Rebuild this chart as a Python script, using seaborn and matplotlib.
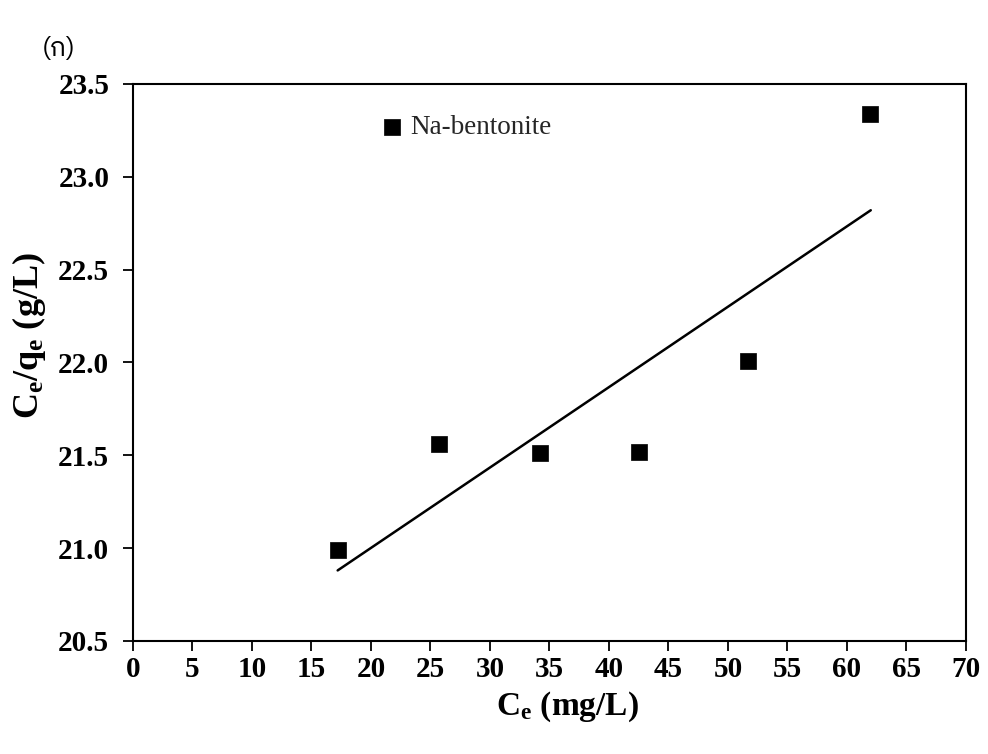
import matplotlib
matplotlib.use("Agg")
import matplotlib.pyplot as plt
from matplotlib import font_manager
from matplotlib.ft2font import FT2Font
import seaborn as sns
import pandas as pd

# Data
ce = [17.2, 25.7, 34.2, 42.5, 51.7, 61.9]
ce_qe = [20.99, 21.56, 21.51, 21.52, 22.01, 23.34]
fit_x = [17.2, 62.0]
fit_y = [20.88, 22.82]
x_ticks = list(range(0, 75, 5))
y_ticks = [20.5, 21.0, 21.5, 22.0, 22.5, 23.0, 23.5]
series_label = "Na-bentonite"
panel_label = "(ก)"


def find_family_with(char):
    fams = []
    for path in font_manager.findSystemFonts():
        try:
            f = FT2Font(path)
            if ord(char) in f.get_charmap():
                name = font_manager.FontProperties(fname=path).get_name()
                fams.append(name)
        except Exception:
            pass
    pref = [n for n in fams if 'Thai' in n and 'Looped' not in n]
    return (pref or fams or ['DejaVu Sans'])[0]


thai_family = find_family_with("ก")

sns.set_theme(style="white")
plt.rcParams['font.family'] = ['Liberation Serif', 'DejaVu Serif']
plt.rcParams['mathtext.fontset'] = 'custom'
plt.rcParams['mathtext.rm'] = 'Liberation Serif'
plt.rcParams['mathtext.bf'] = 'Liberation Serif:bold'

fig = plt.figure(figsize=(9.88, 7.54), dpi=100)
ax = fig.add_axes([0.1346, 0.1499, 0.8431, 0.7387])

df = pd.DataFrame({"Ce": ce, "Ceqe": ce_qe})
fit_df = pd.DataFrame({"x": fit_x, "y": fit_y})

sns.lineplot(data=fit_df, x="x", y="y", color="black", linewidth=1.8, ax=ax, legend=False)
sns.scatterplot(data=df, x="Ce", y="Ceqe", marker="s", s=120, color="black",
                edgecolor="black", linewidth=0.5, ax=ax, label=series_label, zorder=3)

ax.set_xlim(0, 70)
ax.set_ylim(20.5, 23.5)
ax.set_xticks(x_ticks)
ax.set_yticks(y_ticks)
ax.set_xticklabels([str(t) for t in x_ticks])
ax.set_yticklabels([f"{t:.1f}" for t in y_ticks])

for s in ax.spines.values():
    s.set_color("black")
    s.set_linewidth(1.5)
    s.set_visible(True)

ax.tick_params(axis="both", which="major", direction="out", length=7, width=1.3,
               color="black", labelsize=21, labelcolor="black", bottom=True, left=True)
ax.tick_params(axis="x", pad=4)
ax.tick_params(axis="y", pad=10)
for lab in ax.get_xticklabels() + ax.get_yticklabels():
    lab.set_fontweight("bold")

ax.set_xlabel(r"$\mathbf{C_e}$ (mg/L)", fontsize=24, fontweight="bold", color="black")
ax.set_ylabel(r"$\mathbf{C_e/q_e}$ (g/L)", fontsize=26, fontweight="bold", color="black")
ax.xaxis.set_label_coords(0.522, -0.088)
ax.yaxis.set_label_coords(-0.102, 0.548)

leg = ax.legend(loc="upper left", bbox_to_anchor=(0.278, 0.964), frameon=False,
                fontsize=19.5, handletextpad=0.1, handlelength=1.2, markerscale=1.0,
                borderaxespad=0)

fig.text(0.042, 0.926, panel_label, fontsize=19, family=[thai_family, 'DejaVu Sans'],
         color="black")

fig.savefig("out.png", dpi=100, facecolor="white")
